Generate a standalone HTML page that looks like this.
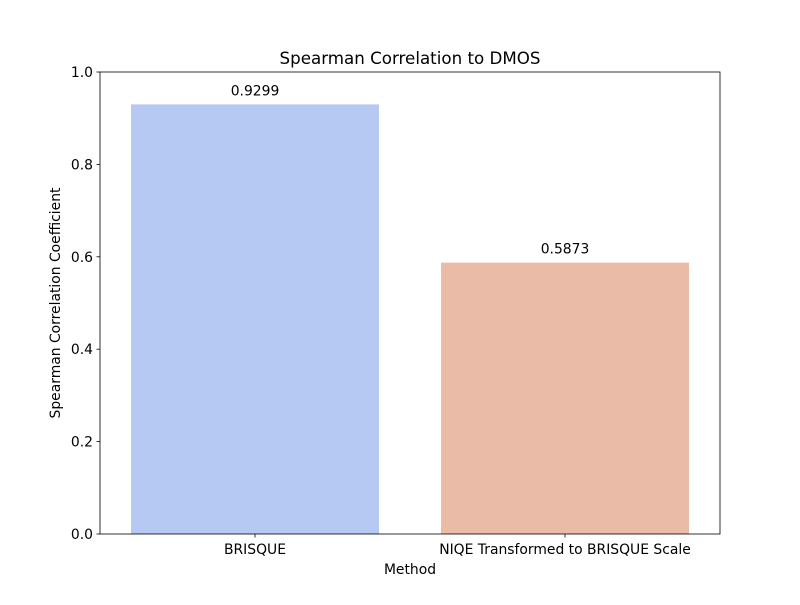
<!DOCTYPE html>
<html><head><meta charset="utf-8"><style>
body{margin:0;background:#fff;}
svg text{font-family:"DejaVu Sans","Liberation Sans",sans-serif;fill:#000;}
</style></head><body>
<svg id="chart" width="800" height="600" xmlns="http://www.w3.org/2000/svg">
<rect width="800" height="600" fill="#fff"/>
<g id="bars"></g>
<g id="axes"></g>
<text x="410" y="64" text-anchor="middle" font-size="16.7">Spearman Correlation to DMOS</text>
<text x="410" y="574" text-anchor="middle" font-size="13.9">Method</text>
<text transform="translate(60,303) rotate(-90)" text-anchor="middle" font-size="13.9">Spearman Correlation Coefficient</text>
</svg>
<script>
const categories=["BRISQUE","NIQE Transformed to BRISQUE Scale"];
const values=[0.9299,0.5873];
const colors=["#b5c9f2","#eabba6"];
const yTicks=[0,0.2,0.4,0.6,0.8,1.0];
const L=100,R=720,T=72,B=534;
const ns="http://www.w3.org/2000/svg";
const y=v=>B-(v-0)/(1-0)*(B-T);
const band=(R-L)/categories.length;
const xc=i=>L+band*(i+0.5);
const bars=document.getElementById('bars'),axes=document.getElementById('axes');
function mk(t,a,p){const e=document.createElementNS(ns,t);for(const k in a)e.setAttribute(k,a[k]);p.appendChild(e);return e;}
categories.forEach((c,i)=>{
 const w=band*0.8;
 const r=mk('rect',{x:xc(i)-w/2,y:y(values[i]),width:w,height:B-y(values[i]),fill:colors[i]},bars);
 
 
 const t=mk('text',{x:xc(i),y:y(values[i])-9,'text-anchor':'middle','font-size':13.9},bars);
 t.textContent=values[i].toFixed(4);
 
 
 mk('line',{x1:xc(i),x2:xc(i),y1:B,y2:B+3.5,stroke:'#000','stroke-width':0.8},axes);
 const xl=mk('text',{x:xc(i),y:B+20,'text-anchor':'middle','font-size':13.9},axes);
 xl.textContent=c;
 
 
});
yTicks.forEach(v=>{
 mk('line',{x1:L-3.5,x2:L,y1:y(v),y2:y(v),stroke:'#000','stroke-width':0.8},axes);
 const t=mk('text',{x:L-7,y:y(v)+5,'text-anchor':'end','font-size':13.9},axes);
 t.textContent=v.toFixed(1);
 
 
});
const f=mk('rect',{x:L,y:T,width:R-L,height:B-T,fill:'none',stroke:'#000','stroke-width':0.8},axes);


</script>
</body></html>
